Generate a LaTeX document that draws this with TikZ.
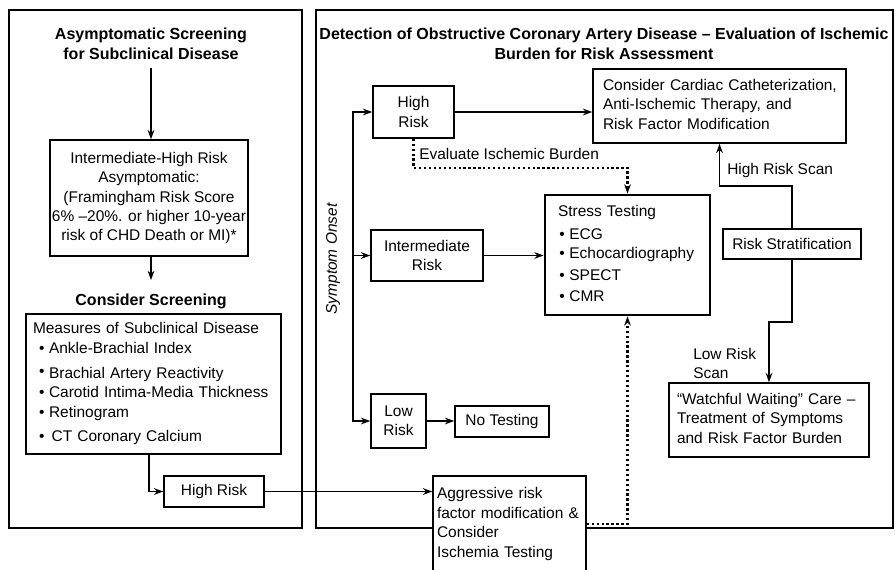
\documentclass[tikz,border=0pt]{standalone}
\usepackage{fontspec}
\setmainfont{Liberation Sans}
\usetikzlibrary{arrows.meta,calc}

% bullet with a chosen left indent
\newcommand{\bpt}[1]{\hspace*{#1}\textbullet\hspace{3.5pt}}
% left-aligned block of fixed lines (never rebroken)
\newcommand{\rows}[1]{\begin{tabular}{@{}l@{}}#1\end{tabular}}

\begin{document}
\begin{tikzpicture}[x=0.75pt,y=-0.75pt,
  font=\fontsize{11.6}{14.6}\selectfont,
  sz/.style 2 args={minimum width=#1*0.75pt, minimum height=#2*0.75pt},
  box/.style={draw, line width=1.05pt, fill=white, inner sep=0pt, align=center},
  heavy/.style={draw, line width=2pt, fill=white, inner sep=0pt},
  lbox/.style 2 args={text width=#1*0.75pt, inner xsep=#2*0.75pt, align=left},
  panel/.style={draw, line width=1.7pt, inner sep=0pt},
  head/.style={font=\fontsize{12}{14.6}\selectfont\bfseries, align=center},
  tag/.style={anchor=west, inner sep=3pt, align=left},
  arr/.style={line width=1.35pt, -{Stealth[length=7pt,width=5pt]}},
  dotarr/.style={line width=1.7pt, dotted, -{Stealth[length=7pt,width=5pt]}},
]
\useasboundingbox (0,0) rectangle (895,569);

% the two panels
\node[panel, sz={293}{518}] (lpanel) at (155.5,269) {};
\node[panel, sz={577}{518}] (rpanel) at (604.5,269) {};

% ---- left panel: screening ----
\node[head] (t1) at (151,44) {Asymptomatic Screening\\for Subclinical Disease};
\node[box, sz={198}{116}] (ihr) at (149,198)
  {Intermediate-High Risk\\Asymptomatic:\\(Framingham Risk Score\\6\% –20\%. or higher 10-year\\risk of CHD Death or MI)*};
\node[head] (cs) at (151,301) {Consider Screening};
\node[heavy, sz={255}{140}, lbox={241}{7}] (meas) at (153.5,384)
  {\rows{Measures of Subclinical Disease\\[0.4pt]
   \bpt{4.5pt}Ankle-Brachial Index\\[4.1pt]
   \hspace*{4.5pt}\raisebox{2pt}{\textbullet}\hspace{3.5pt}Brachial Artery Reactivity\\[-0.4pt]
   \bpt{4.5pt}Carotid Intima-Media Thickness\\[0.4pt]
   \bpt{4.5pt}Retinogram\\[3.4pt]
   \bpt{4.5pt}\,CT Coronary Calcium}};
\node[box, sz={100}{31}] (hr1) at (214,491.5) {High Risk};

\draw[arr, shorten <=3pt] (t1.south) -- (t1.south |- ihr.north);
\draw[arr, shorten >=6.5pt] (t1.south |- ihr.south) -- (t1.south |- cs.north);
\draw[arr] ([xshift=-3.4pt]meas.south) |- (hr1.west);

% ---- right panel: detection ----
\node[head] (t2) at (604,44)
  {Detection of Obstructive Coronary Artery Disease – Evaluation of Ischemic\\Burden for Risk Assessment};
\node[box, sz={81}{52}] (hr2) at (413.5,112) {High\\Risk};
\node[box, sz={253}{74}, lbox={233}{10}] (cath) at (719.5,106)
  {\rows{Consider Cardiac Catheterization,\\Anti-Ischemic Therapy, and\\Risk Factor Modification}};
\node[box, sz={112}{51}] (inter) at (427,255.5) {Intermediate\\Risk};
\node[heavy, sz={165}{120}, lbox={139}{13}] (stress) at (627.5,255)
  {\rows{Stress Testing\\[2.6pt]
   \bpt{1pt}ECG\\[-0.4pt]
   \bpt{1pt}Echocardiography\\[1.9pt]
   \bpt{1pt}SPECT\\[1.1pt]
   \bpt{1pt}CMR}};
\node[box, sz={55}{54}] (low) at (398.5,421) {Low\\Risk};
\node[box, sz={94}{31}] (notest) at (502,421.5) {No Testing};
\node[box, sz={138}{30}] (rs) at (792,244) {Risk Stratification};
\node[box, sz={200}{74}, lbox={184}{8}] (watch) at (769,420)
  {\rows{“Watchful Waiting” Care –\\Treatment of Symptoms\\and Risk Factor Burden}};
\node[box, sz={153}{96}, lbox={145}{4}] (aggr) at (509.5,524)
  {\rows{Aggressive risk\\factor modification \&\\Consider\\Ischemia Testing}};

% symptom onset branching
\coordinate (sotop) at (353,112);
\node[rotate=90, font=\fontsize{11.6}{14.6}\selectfont\itshape] (sym) at (333,259) {Symptom Onset};
\draw[arr] (sotop |- low.west) -- (sotop) -- (hr2.west);
\draw[arr] (sotop) |- (low.west);
\draw[arr] (sotop |- inter.west) -- (inter.west);

% main flow
\draw[arr] (hr2.east) -- (hr2.east -| cath.west);
\draw[arr] (inter.east) -- (inter.east -| stress.west);
\draw[arr] (low.east) -- (low.east -| notest.west);
\draw[dotarr] (hr2.south) -- ++(0,29) -| (stress.north);
\node[tag] (evl) at (415,154) {Evaluate Ischemic Burden};
\draw[dotarr] (aggr.east) -| (stress.south);
\draw[arr] (hr1.east) -- (hr1.east -| aggr.west);

% risk stratification outcomes
\draw[arr] (rs.north) -- ++(0,-42) -| (cath.south);
\node[tag] (hrs) at (723,170) {High Risk Scan};
\draw[arr] (rs.south) -- ++(0,62) -| (watch.north);
\node[tag] (lrs) at (689,363.5) {Low Risk\\Scan};
\end{tikzpicture}
\end{document}
